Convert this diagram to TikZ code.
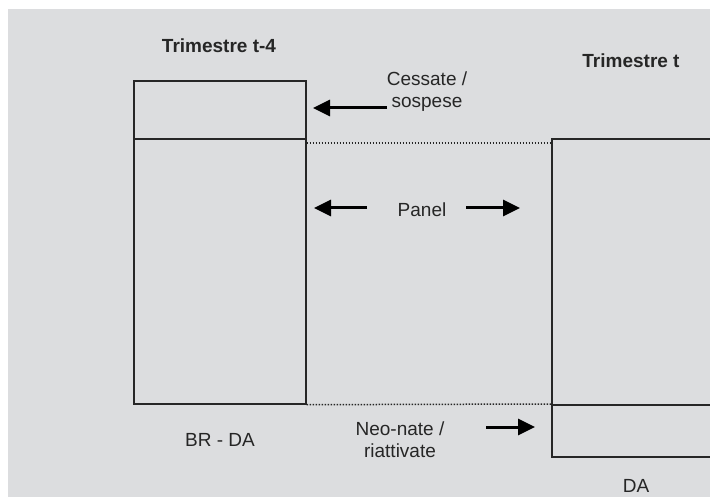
\documentclass[tikz,border=0pt]{standalone}
\usepackage{fontspec}
\setmainfont{Liberation Sans}
\usetikzlibrary{arrows.meta}
\definecolor{sfondo}{HTML}{DCDDDF}
\definecolor{tratto}{HTML}{262626}
\tikzset{
  blocco/.style={draw=tratto, line width=1.7pt, inner sep=0pt, anchor=north west},
  freccia/.style={line width=3pt, draw=black, -{Triangle[length=17pt,width=16pt]}},
  etichetta/.style={text=tratto, font=\fontsize{19}{22}\selectfont, align=center, inner sep=0pt},
  titolo/.style={etichetta, font=\bfseries\fontsize{19}{22}\selectfont},
  puntini/.style={draw=tratto, line width=1.5pt, dash pattern=on 1.5pt off 1.5pt}
}
\begin{document}
\begin{tikzpicture}[x=1pt,y=-1pt]
  \clip (0,0) rectangle (710,497);
  \fill[white] (0,0) rectangle (710,497);
  \fill[sfondo] (8,9) rectangle (710,497);
  % trimestre t-4
  \node[blocco, minimum width=172pt, minimum height=58pt] (cessate) at (133,80) {};
  \node[blocco, minimum width=172pt, minimum height=265pt] (vecchio) at (133,138) {};
  % trimestre t
  \node[blocco, minimum width=200pt, minimum height=266pt] (nuovo) at (551,138) {};
  \node[blocco, minimum width=200pt, minimum height=52pt] (neonate) at (551,404) {};
  % testi
  \node[titolo, anchor=base] (t4) at (219,53) {Trimestre t-4};
  \node[titolo, anchor=base] (t) at (631,68) {Trimestre t};
  \node[etichetta, anchor=base] (brda) at (220,446) {BR - DA};
  \node[etichetta, anchor=base] (da) at (636,492) {DA};
  \node[etichetta, anchor=base] (panel) at (422,217) {Panel};
  \node[etichetta] (lcess) at (427,92) {Cessate /\\sospese};
  \node[etichetta] (lneo) at (400,440) {Neo-nate /\\riattivate};
  % frecce
  \coordinate (c1) at (387,108);
  \coordinate (c2) at (313,108);
  \coordinate (p1) at (367,208);
  \coordinate (p2) at (314,208);
  \coordinate (p3) at (466,208);
  \coordinate (p4) at (520,208);
  \coordinate (n1) at (486,427);
  \coordinate (n2) at (535,427);
  \draw[freccia] (c1) -- (c2);
  \draw[freccia] (p1) -- (p2);
  \draw[freccia] (p3) -- (p4);
  \draw[freccia] (n1) -- (n2);
  % collegamenti
  \draw[puntini] ([yshift=-5pt]vecchio.north east) -- ([yshift=-5pt]nuovo.north west);
  \draw[puntini] (vecchio.south east) -- (neonate.north west);
\end{tikzpicture}
\end{document}
